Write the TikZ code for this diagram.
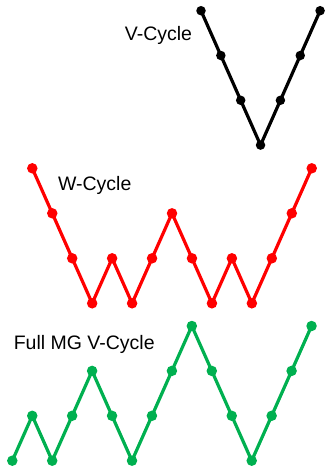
\documentclass[tikz,border=0pt]{standalone}
\usepackage{fontspec}
\setmainfont{Liberation Sans}
\usetikzlibrary{backgrounds}
\definecolor{mgred}{RGB}{255,0,0}
\definecolor{mggreen}{RGB}{0,176,80}
\tikzset{
  dotnode/.style={circle,inner sep=0pt,minimum size=#1,draw=none},
  bdot/.style={dotnode=9.5pt,fill=black},
  rdot/.style={dotnode=10.5pt,fill=mgred},
  gdot/.style={dotnode=10.5pt,fill=mggreen},
  cyc/.style={line width=3.2pt,line join=round},
  lab/.style={anchor=base,inner sep=0pt,font=\fontsize{19.5}{22}\selectfont}
}
\begin{document}
\begin{tikzpicture}[x=1pt,y=-1pt]
\useasboundingbox (0,0) rectangle (325,467);
% V-cycle
\foreach \k [count=\n from 0] in {0,1,2,3,2,1,0}
  \node[bdot] (b\n) at ({201+19.85*\n},{10.7+44.8*\k}) {};
\begin{pgfonlayer}{background}
\foreach \n [evaluate=\n as \m using int(\n+1)] in {0,...,5}
  \draw[cyc,black] (b\n.center) -- (b\m.center);
\end{pgfonlayer}
\node[lab] (vt) at (158.5,40.5) {V-Cycle};
% W-cycle
\foreach \k [count=\n from 0] in {0,1,2,3,2,3,2,1,2,3,2,3,2,1,0}
  \node[rdot] (r\n) at ({32.3+19.96*\n},{168.3+45*\k}) {};
\begin{pgfonlayer}{background}
\foreach \n [evaluate=\n as \m using int(\n+1)] in {0,...,13}
  \draw[cyc,mgred] (r\n.center) -- (r\m.center);
\end{pgfonlayer}
\node[lab] (wt) at (94.7,190) {W-Cycle};
% Full MG
\foreach \k [count=\n from 0] in {3,2,3,2,1,2,3,2,1,0,1,2,3,2,1,0}
  \node[gdot] (g\n) at ({12.3+19.95*\n},{326+44.9*\k}) {};
\begin{pgfonlayer}{background}
\foreach \n [evaluate=\n as \m using int(\n+1)] in {0,...,14}
  \draw[cyc,mggreen] (g\n.center) -- (g\m.center);
\end{pgfonlayer}
\node[lab] (ft) at (84.2,349) {Full MG V-Cycle};
\end{tikzpicture}
\end{document}
